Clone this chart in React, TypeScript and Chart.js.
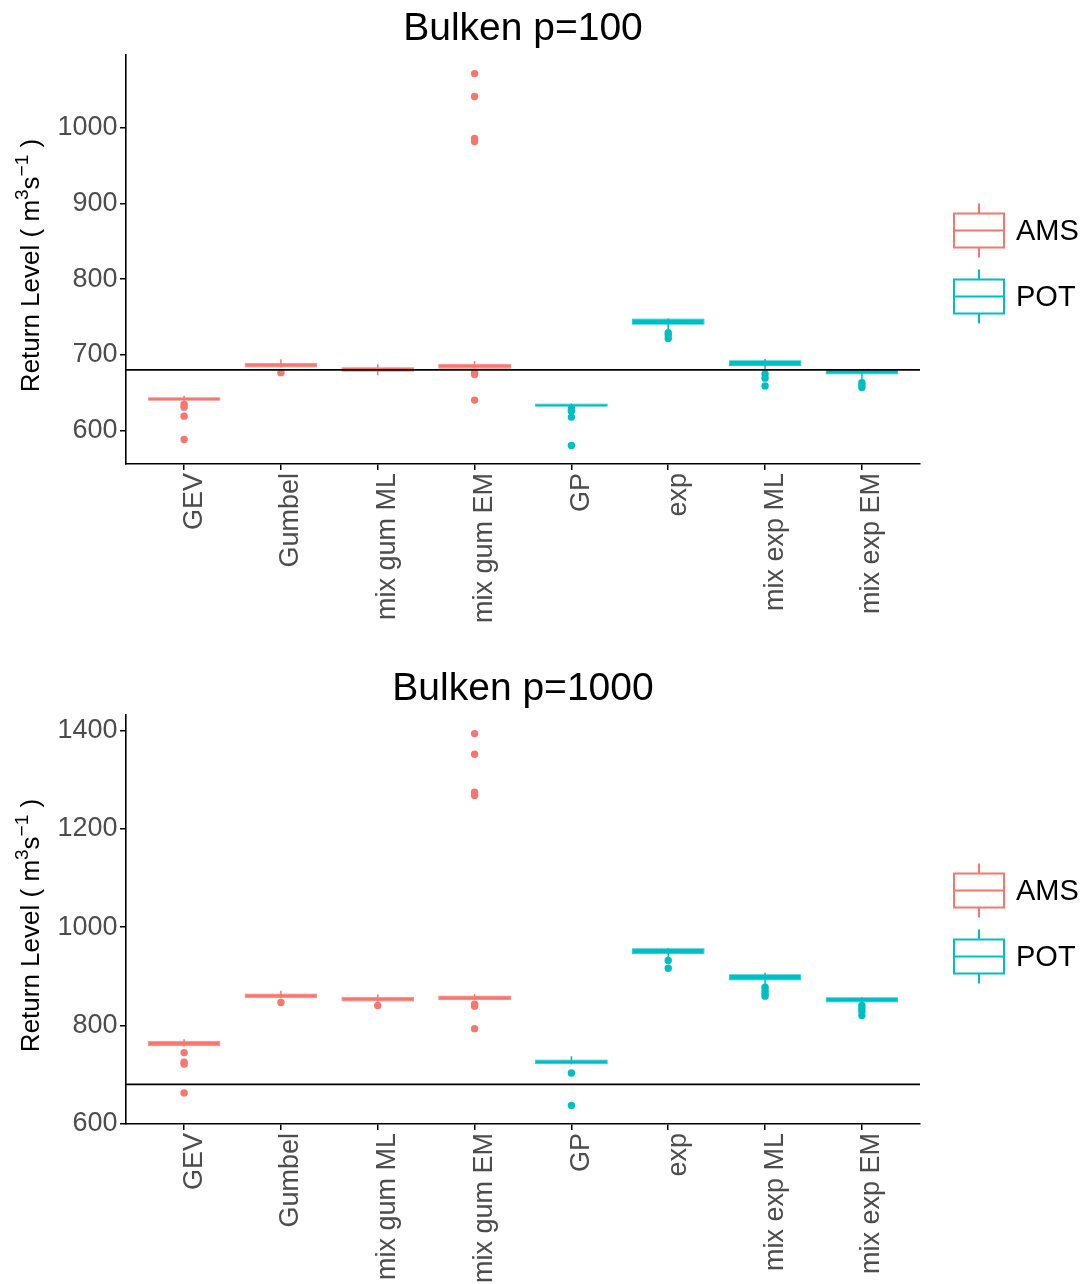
import React, { useEffect, useRef } from "react";
import { Chart, registerables } from "chart.js";

Chart.register(...registerables);

// Return-level estimators, AMS-based then POT-based
const methods = ["GEV", "Gumbel", "mix gum ML", "mix gum EM", "GP", "exp", "mix exp ML", "mix exp EM"];
const methodGroup = ["AMS", "AMS", "AMS", "AMS", "POT", "POT", "POT", "POT"];
const groups = ["AMS", "POT"];
const groupColors = ["#F8766D", "#00BFC4"];
const referenceLevel = 680;

// p = 100
const p100Q1 = [639.0, 683.0, 677.6, 681.6, 631.1, 739.6, 685.1, 673.7];
const p100Q3 = [643.9, 689.5, 683.4, 688.2, 635.5, 748.0, 692.6, 680.8];
const p100WhiskerLow = [639.0, 683.0, 672.9, 681.6, 631.1, 732.6, 677.6, 666.7];
const p100WhiskerHigh = [645.6, 694.0, 687.4, 691.7, 635.5, 748.0, 694.4, 680.8];
const p100Outliers = [
  [634.3, 630.7, 618.8, 588.0],
  [676.3],
  [],
  [676.3, 673.7, 640.0, 982.0, 986.0, 1041.4, 1071.7],
  [628.5, 625.4, 617.5, 580.1],
  [729.0, 726.0, 721.6],
  [674.6, 669.0, 658.8],
  [663.0, 660.0, 656.5],
];
const p100Ticks = [600, 700, 800, 900, 1000];

// p = 1000
const p1000Q1 = [757.4, 855.4, 848.7, 851.4, 720.8, 944.8, 891.4, 846.7];
const p1000Q3 = [768.9, 865.0, 858.3, 860.9, 730.4, 957.0, 904.2, 857.5];
const p1000WhiskerLow = [757.4, 855.4, 848.7, 851.4, 720.8, 938.7, 881.2, 844.0];
const p1000WhiskerHigh = [771.6, 870.5, 863.5, 863.5, 737.0, 957.0, 907.0, 857.5];
const p1000Outliers = [
  [744.6, 724.9, 721.4, 662.5],
  [846.7],
  [840.6],
  [843.2, 839.2, 793.3, 1268.4, 1275.1, 1352.3, 1394.3],
  [703.1, 637.0],
  [932.0, 916.3],
  [877.8, 871.0, 865.0, 859.5],
  [840.6, 834.5, 828.4, 820.3],
];
const p1000Ticks = [600, 800, 1000, 1200, 1400];

const FONT = "'Liberation Sans', Arial, Helvetica, sans-serif";
const TICK_GREY = "#4D4D4D";

// y-axis title pieces: [text, superscript?]
const yTitleParts: [string, boolean][] = [
  ["Return Level ( m", false],
  ["3", true],
  ["s", false],
  ["\u22121", true],
  [" )", false],
];

type PanelProps = {
  title: string;
  height: number;
  q1: number[];
  q3: number[];
  wLow: number[];
  wHigh: number[];
  outliers: number[][];
  yTicks: number[];
};

const PLOT_TOP = 55;
const PLOT_BOTTOM = 464;
const PLOT_LEFT = 126;
const PLOT_RIGHT = 920;
const WIDTH = 1088;

const boxLegend = {
  id: "boxLegend",
  afterDraw(chart: any) {
    const { ctx, chartArea } = chart;
    const mid = (chartArea.top + chartArea.bottom) / 2;
    const x0 = chartArea.right + 34;
    const w = 50;
    const h = 34;
    ctx.save();
    groups.forEach((g, k) => {
      const cy = mid - 29 + k * 66;
      const color = groupColors[k];
      ctx.strokeStyle = color;
      ctx.lineWidth = 2;
      ctx.strokeRect(x0, cy - h / 2, w, h);
      ctx.beginPath();
      ctx.moveTo(x0, cy);
      ctx.lineTo(x0 + w, cy);
      ctx.moveTo(x0 + w / 2, cy - h / 2);
      ctx.lineTo(x0 + w / 2, cy - h / 2 - 10);
      ctx.moveTo(x0 + w / 2, cy + h / 2);
      ctx.lineTo(x0 + w / 2, cy + h / 2 + 10);
      ctx.stroke();
      ctx.fillStyle = "#000";
      ctx.font = `29px ${FONT}`;
      ctx.textAlign = "left";
      ctx.textBaseline = "middle";
      ctx.fillText(g, x0 + w + 12, cy + 1);
    });
    ctx.restore();
  },
};

// rotated y-axis title with raised exponents
const yAxisTitle = {
  id: "yAxisTitle",
  afterDraw(chart: any) {
    const { ctx, chartArea } = chart;
    const big = `26px ${FONT}`;
    const small = `19px ${FONT}`;
    ctx.save();
    let total = 0;
    yTitleParts.forEach(([t, sup]) => {
      ctx.font = sup ? small : big;
      total += ctx.measureText(t).width;
    });
    const cy = (chartArea.top + chartArea.bottom) / 2 + 6;
    ctx.translate(39, cy);
    ctx.rotate(-Math.PI / 2);
    ctx.fillStyle = "#000";
    ctx.textAlign = "left";
    ctx.textBaseline = "alphabetic";
    let x = -total / 2;
    yTitleParts.forEach(([t, sup]) => {
      ctx.font = sup ? small : big;
      ctx.fillText(t, x, sup ? -11 : 0);
      x += ctx.measureText(t).width;
    });
    ctx.restore();
  },
};

function Panel({ title, height, q1, q3, wLow, wHigh, outliers, yTicks }: PanelProps) {
  const ref = useRef<HTMLCanvasElement | null>(null);

  useEffect(() => {
    if (!ref.current) return;

    const all = [...wLow, ...wHigh, ...outliers.flat()];
    const lo = Math.min(...all);
    const hi = Math.max(...all);
    const pad = (hi - lo) * 0.05;

    const datasets: any[] = [];
    groups.forEach((g, k) => {
      const idx = methods.map((_, i) => i).filter((i) => methodGroup[i] === g);
      const color = groupColors[k];
      datasets.push({
        type: "bar",
        label: g,
        data: idx.map((i) => ({ x: i, y: [q1[i], q3[i]] })),
        backgroundColor: color,
        borderColor: color,
        borderWidth: 0.8,
        borderSkipped: false,
        grouped: false,
        barPercentage: 0.75,
        categoryPercentage: 1,
        order: 3,
      });
      const whisk: any[] = [];
      idx.forEach((i) => {
        whisk.push({ x: i, y: wLow[i] }, { x: i, y: wHigh[i] }, { x: i, y: null });
      });
      datasets.push({
        type: "line",
        label: g + " whiskers",
        data: whisk,
        borderColor: color,
        borderWidth: 1.5,
        pointRadius: 0,
        spanGaps: false,
        order: 2,
      });
      const pts: any[] = [];
      idx.forEach((i) => outliers[i].forEach((v) => pts.push({ x: i, y: v })));
      datasets.push({
        type: "scatter",
        label: g + " outliers",
        data: pts,
        backgroundColor: color,
        borderWidth: 0,
        pointRadius: 3.7,
        order: 1,
      });
    });
    datasets.push({
      type: "line",
      label: "reference",
      data: [
        { x: -0.6, y: referenceLevel },
        { x: methods.length - 0.4, y: referenceLevel },
      ],
      borderColor: "#000",
      borderWidth: 1.8,
      pointRadius: 0,
      order: 0,
    });

    const chart = new Chart(ref.current, {
      type: "bar",
      data: { datasets },
      plugins: [boxLegend, yAxisTitle],
      options: {
        animation: false,
        responsive: false,
        devicePixelRatio: 1,
        layout: { padding: { left: 0, right: WIDTH - PLOT_RIGHT, top: 0, bottom: 0 } },
        plugins: {
          legend: { display: false },
          tooltip: { enabled: false },
          title: {
            display: true,
            text: title,
            color: "#000",
            fullSize: false,
            font: { family: FONT, size: 39, weight: "normal", lineHeight: 1.2 },
            padding: { top: 6, bottom: PLOT_TOP - 6 - 39 * 1.2 },
          },
        },
        scales: {
          x: {
            type: "linear",
            offset: false,
            min: -0.6,
            max: methods.length - 0.4,
            afterBuildTicks: (s: any) => {
              s.ticks = methods.map((_, i) => ({ value: i }));
            },
            afterFit: (s: any) => {
              s.height = height - PLOT_BOTTOM;
            },
            ticks: {
              autoSkip: false,
              minRotation: 90,
              maxRotation: 90,
              labelOffset: 10,
              padding: 3,
              color: TICK_GREY,
              font: { family: FONT, size: 27 },
              callback: (v: any) => methods[v as number],
            },
            grid: { display: true, offset: false, drawOnChartArea: false, drawTicks: true, tickLength: 6, color: "#000", lineWidth: 1.5 },
            border: { display: true, color: "#000", width: 1.6 },
          },
          y: {
            type: "linear",
            min: lo - pad,
            max: hi + pad,
            afterBuildTicks: (s: any) => {
              s.ticks = yTicks.map((v) => ({ value: v }));
            },
            afterFit: (s: any) => {
              s.width = PLOT_LEFT;
            },
            ticks: {
              padding: 2.5,
              color: TICK_GREY,
              font: { family: FONT, size: 27 },
              callback: (v: any) => String(v),
            },
            grid: { display: true, drawOnChartArea: false, drawTicks: true, tickLength: 6, color: "#000", lineWidth: 1.5 },
            border: { display: true, color: "#000", width: 1.6 },
          },
        },
      } as any,
    });
    return () => chart.destroy();
  }, [title, height, q1, q3, wLow, wHigh, outliers, yTicks]);

  return <canvas ref={ref} width={WIDTH} height={height} style={{ display: "block", width: WIDTH, height }} />;
}

export default function App() {
  return (
    <div style={{ position: "absolute", left: 0, top: 0, width: WIDTH, background: "#fff" }}>
      <Panel
        title="Bulken p=100"
        height={660}
        q1={p100Q1}
        q3={p100Q3}
        wLow={p100WhiskerLow}
        wHigh={p100WhiskerHigh}
        outliers={p100Outliers}
        yTicks={p100Ticks}
      />
      <Panel
        title="Bulken p=1000"
        height={624}
        q1={p1000Q1}
        q3={p1000Q3}
        wLow={p1000WhiskerLow}
        wHigh={p1000WhiskerHigh}
        outliers={p1000Outliers}
        yTicks={p1000Ticks}
      />
    </div>
  );
}
